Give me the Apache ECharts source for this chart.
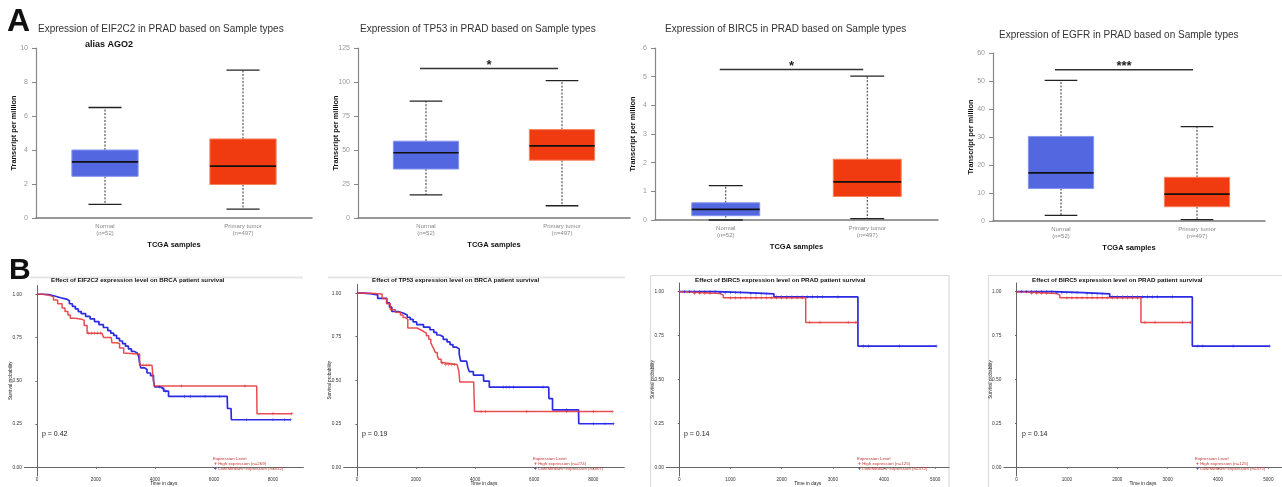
<!DOCTYPE html>
<html>
<head>
<meta charset="utf-8">
<script src="https://cdn.jsdelivr.net/npm/echarts@6/dist/echarts.min.js"></script>
<style>html,body{margin:0;padding:0;background:#fff;}#c{width:1282px;height:487px;}</style>
</head>
<body>
<div id="c"></div>
<script>
// ---------------- DATA ----------------
const boxCategories = ['Normal\n(n=52)', 'Primary tumor\n(n=497)'];
// [min, Q1, median, Q3, max] for Normal, Primary tumor
const eif2c2Box = [[0.8, 2.45, 3.3, 4.0, 6.5], [0.52, 1.97, 3.05, 4.65, 8.7]];
const tp53Box   = [[17, 36, 48, 56.5, 86], [9, 42.5, 53, 65, 101]];
const birc5Box  = [[0.0, 0.15, 0.37, 0.6, 1.2], [0.05, 0.82, 1.33, 2.12, 5.02]];
const egfrBox   = [[2, 11.6, 17.2, 30.2, 50.2], [0.5, 5.1, 9.6, 15.6, 33.7]];
const boxTitles = [
  'Expression of EIF2C2 in PRAD based on Sample types',
  'Expression of TP53 in PRAD based on Sample types',
  'Expression of BIRC5 in PRAD based on Sample types',
  'Expression of EGFR in PRAD based on Sample types'
];
const boxYMax = [10, 125, 6, 60];
const boxYInterval = [2, 25, 1, 10];
// significance bars: [value, label]  (null = none)
const boxSig = [null, [110, '*'], [5.25, '*'], [54, '***']];

// Kaplan-Meier curves: [time in days, survival probability]
const eif2c2High = [[0,1],[200,0.995],[400,0.985],[560,0.967],[700,0.945],[850,0.92],[950,0.9],[1050,0.88],[1130,0.862],[1300,0.855],[1520,0.85],[1600,0.82],[1700,0.775],[2200,0.765],[2260,0.75],[2520,0.75],[2540,0.72],[2700,0.715],[2800,0.69],[2940,0.66],[3000,0.655],[3400,0.655],[3480,0.59],[3900,0.59],[3930,0.53],[3980,0.47],[7450,0.47],[7460,0.31],[8640,0.31]];
const eif2c2Low  = [[0,1],[200,0.998],[400,0.99],[600,0.98],[800,0.972],[1000,0.962],[1100,0.945],[1200,0.93],[1300,0.915],[1400,0.9],[1500,0.888],[1650,0.872],[1800,0.858],[1950,0.842],[2100,0.825],[2250,0.808],[2400,0.79],[2500,0.775],[2600,0.762],[2700,0.745],[2800,0.73],[2900,0.715],[3000,0.7],[3100,0.685],[3200,0.67],[3300,0.66],[3400,0.65],[3450,0.64],[3480,0.605],[3520,0.575],[3650,0.565],[3730,0.545],[3850,0.53],[3950,0.5],[3990,0.465],[4200,0.455],[4300,0.44],[4460,0.41],[6450,0.41],[6460,0.34],[6580,0.34],[6590,0.275],[8600,0.275]];
const tp53High = [[0,1],[450,0.995],[850,0.97],[1000,0.94],[1130,0.905],[1300,0.89],[1470,0.875],[1560,0.86],[1640,0.85],[1720,0.8],[2030,0.79],[2150,0.78],[2260,0.77],[2350,0.755],[2430,0.735],[2500,0.715],[2540,0.7],[2600,0.68],[2650,0.66],[2720,0.64],[2770,0.62],[2850,0.6],[2940,0.59],[3390,0.59],[3450,0.55],[3480,0.49],[3950,0.49],[3960,0.43],[3980,0.32],[8640,0.32]];
const tp53Low  = [[0,1],[200,0.998],[450,0.99],[700,0.97],[1010,0.945],[1100,0.92],[1180,0.895],[1400,0.885],[1580,0.875],[1700,0.862],[1800,0.85],[1900,0.835],[2020,0.82],[2250,0.805],[2470,0.79],[2600,0.775],[2700,0.76],[2800,0.75],[2920,0.735],[3050,0.72],[3150,0.705],[3250,0.69],[3370,0.68],[3460,0.65],[3510,0.61],[3710,0.6],[3750,0.575],[3800,0.55],[3940,0.53],[4280,0.53],[4290,0.495],[4480,0.46],[6490,0.46],[6500,0.395],[6620,0.33],[7500,0.33],[7510,0.25],[8680,0.25]];
const birc5High = [[0,1],[140,0.99],[790,0.98],[860,0.965],[2470,0.825],[3480,0.825]];
const birc5Low  = [[0,1],[730,0.995],[1320,0.988],[1850,0.97],[3490,0.69],[5020,0.69]];

// censoring times
const eif2c2HighCens = [1750,1850,1950,2050,2150,3600,3700,3800,4900,7050,8000,8640];
const eif2c2LowCens  = [4150,4250,4350,5000,5200,5700,6200,7100,8000,8400,8600];
const tp53HighCens   = [2900,3000,3100,3200,3300,4200,4350,5750,7100,8000,8640];
const tp53LowCens    = [4950,5050,5150,5300,6300,7100,8000,8400,8680];
const birc5HighCens  = [300,400,500,600,1000,1100,1200,1300,1400,1500,1600,1700,1800,1900,2000,2100,2200,2300,2400,2550,2750,3300,3450];
const birc5LowCens   = [100,200,300,400,500,600,700,800,900,1000,1100,1200,1400,1500,1600,1700,1900,2000,2100,2200,2300,2400,2500,2600,2700,2800,3100,3600,3700,4300,5020];

const kmTitles = [
  'Effect of EIF2C2 expression level on BRCA patient survival',
  'Effect of TP53 expression level on BRCA patient survival',
  'Effect of BIRC5 expression level on PRAD patient survival',
  'Effect of BIRC5 expression level on PRAD patient survival'
];
const kmPValues = ['p = 0.42', 'p = 0.19', 'p = 0.14', 'p = 0.14'];
const kmHighN = [269, 274, 125, 125];
const kmLowN  = [812, 807, 372, 372];
const kmTicksLong  = [0, 2000, 4000, 6000, 8000];
const kmTicksShort = [0, 1000, 2000, 3000, 4000, 5000];
const survTicks = [0, 0.25, 0.5, 0.75, 1];

// ---------------- CHART ----------------
const FONT = 'Liberation Sans';
const BLUE = '#5367E0', BLUE_EDGE = '#8595ee';
const RED = '#F03A10', RED_EDGE = '#f5825f';
const KM_RED = '#E63A3F', KM_BLUE = '#2B2BE6';

const boxes = [eif2c2Box, tp53Box, birc5Box, egfrBox];
const kmHigh = [eif2c2High, tp53High, birc5High, birc5High];
const kmLow  = [eif2c2Low, tp53Low, birc5Low, birc5Low];
const kmHighC = [eif2c2HighCens, tp53HighCens, birc5HighCens, birc5HighCens];
const kmLowC  = [eif2c2LowCens, tp53LowCens, birc5LowCens, birc5LowCens];

function survAt(curve, t) {
  let s = curve[0][1];
  for (const p of curve) { if (p[0] <= t) s = p[1]; else break; }
  return s;
}

function boxRender(params, api) {
  const cat = api.value(0);
  const lo = api.coord([cat, api.value(1)]);
  const q1 = api.coord([cat, api.value(2)]);
  const md = api.coord([cat, api.value(3)]);
  const q3 = api.coord([cat, api.value(4)]);
  const hi = api.coord([cat, api.value(5)]);
  const bw = api.size([1, 0])[0] * 0.48;
  const x = lo[0];
  const fill = cat === 0 ? BLUE : RED;
  const edge = cat === 0 ? BLUE_EDGE : RED_EDGE;
  const cap = bw * 0.25;
  const dash = { stroke: '#333', lineWidth: 1, lineDash: [2, 1.5] };
  const solid = { stroke: '#222', lineWidth: 1.3 };
  return { type: 'group', children: [
    { type: 'line', shape: { x1: x, y1: q3[1], x2: x, y2: hi[1] }, style: dash },
    { type: 'line', shape: { x1: x, y1: q1[1], x2: x, y2: lo[1] }, style: dash },
    { type: 'line', shape: { x1: x - cap, y1: hi[1], x2: x + cap, y2: hi[1] }, style: solid },
    { type: 'line', shape: { x1: x - cap, y1: lo[1], x2: x + cap, y2: lo[1] }, style: solid },
    { type: 'rect', shape: { x: x - bw / 2, y: q3[1], width: bw, height: q1[1] - q3[1] }, style: { fill: fill, stroke: edge, lineWidth: 1 } },
    { type: 'line', shape: { x1: x - bw / 2, y1: md[1], x2: x + bw / 2, y2: md[1] }, style: { stroke: '#111', lineWidth: 1.6 } }
  ]};
}

function sigRender(params, api) {
  const a = api.coord([0, api.value(1)]);
  const b = api.coord([1, api.value(1)]);
  const label = boxSig[params.seriesIndex === 2 ? 1 : params.seriesIndex === 4 ? 2 : 3][1];
  return { type: 'group', children: [
    { type: 'line', shape: { x1: a[0] - 6, y1: a[1], x2: b[0] - 4, y2: b[1] }, style: { stroke: '#333', lineWidth: 1.5 } },
    { type: 'text', x: (a[0] + b[0]) / 2 - 5, y: a[1] - 3, style: { text: label, fontSize: 13, fontWeight: 'bold', fontFamily: FONT, fill: '#222', align: 'center', verticalAlign: 'middle' } }
  ]};
}

const grids = [
  { left: 36, top: 48, width: 276, height: 170 },
  { left: 358, top: 48, width: 272, height: 170 },
  { left: 655, top: 48, width: 283, height: 172 },
  { left: 993, top: 53, width: 272, height: 168 },
  { left: 24.3, top: 285.6, width: 279, height: 191.4 },
  { left: 343.7, top: 284.5, width: 280.6, height: 193.3 },
  { left: 666.4, top: 282.9, width: 282.7, height: 194.3 },
  { left: 1003.9, top: 282.9, width: 281.1, height: 193.6 }
];
const kmXRange = [[-430, 9030], [-450, 9050], [-251, 5271], [-251, 5271]];
const kmXTicks = [kmTicksLong, kmTicksLong, kmTicksShort, kmTicksShort];

const xAxes = [], yAxes = [], series = [];
for (let i = 0; i < 4; i++) {
  xAxes.push({
    type: 'category', gridIndex: i, data: boxCategories, boundaryGap: true,
    axisTick: { show: false },
    axisLine: { lineStyle: { color: '#777', width: 1.5 } },
    axisLabel: { fontSize: 6, color: '#888', lineHeight: 7.5, margin: 4.5, fontFamily: FONT },
    name: 'TCGA samples', nameLocation: 'middle', nameGap: 23, nameMoveOverlap: false,
    nameTextStyle: { fontWeight: 'bold', fontSize: 7.5, color: '#111', fontFamily: FONT }
  });
  yAxes.push({
    type: 'value', gridIndex: i, min: 0, max: boxYMax[i], interval: boxYInterval[i],
    axisLine: { show: true, lineStyle: { color: '#888', width: 1.2 } },
    axisTick: { show: true, length: 4, lineStyle: { color: '#888' } },
    axisLabel: { fontSize: 7, color: '#999', margin: 8, fontFamily: FONT },
    splitLine: { show: false },
    name: 'Transcript per million', nameLocation: 'middle', nameGap: 19, nameMoveOverlap: false,
    nameTextStyle: { fontWeight: 'bold', fontSize: 7.4, color: '#111', fontFamily: FONT }
  });
  series.push({
    type: 'custom', xAxisIndex: i, yAxisIndex: i, renderItem: boxRender,
    encode: { x: 0, y: [1, 2, 3, 4, 5] },
    data: boxes[i].map((b, k) => [k].concat(b))
  });
  if (boxSig[i]) {
    series.push({
      type: 'custom', xAxisIndex: i, yAxisIndex: i, renderItem: sigRender,
      encode: { x: 0, y: 1 }, data: [[0, boxSig[i][0]]]
    });
  }
}
const plusSym = 'path://M4,0H6V4H10V6H6V10H4V6H0V4H4Z';
for (let j = 0; j < 4; j++) {
  const g = 4 + j;
  xAxes.push({
    type: 'value', gridIndex: g, min: kmXRange[j][0], max: kmXRange[j][1],
    axisLine: { lineStyle: { color: '#666', width: 1 } },
    axisTick: { show: true, customValues: kmXTicks[j], length: 1.5, lineStyle: { color: '#666' } },
    axisLabel: { customValues: kmXTicks[j], fontSize: 4.6, color: '#333', margin: 1.5, fontFamily: FONT, formatter: v => String(v) },
    splitLine: { show: false },
    name: 'Time in days', nameLocation: 'middle', nameGap: 5, nameMoveOverlap: false,
    nameTextStyle: { fontSize: 4.8, color: '#222', fontFamily: FONT }
  });
  yAxes.push({
    type: 'value', gridIndex: g, min: -0.05, max: 1.05,
    axisLine: { show: true, lineStyle: { color: '#666', width: 1 } },
    axisTick: { show: true, customValues: survTicks, length: 1.5, lineStyle: { color: '#666' } },
    axisLabel: { customValues: survTicks, fontSize: 4.8, color: '#333', margin: 2.5, fontFamily: FONT, formatter: v => v.toFixed(2) },
    splitLine: { show: false },
    name: 'Survival probability', nameLocation: 'middle', nameGap: 11, nameMoveOverlap: false,
    nameTextStyle: { fontSize: 4.6, color: '#222', fontFamily: FONT }
  });
  series.push({
    type: 'line', xAxisIndex: g, yAxisIndex: g, step: 'end', showSymbol: false, z: 3,
    lineStyle: { color: KM_BLUE, width: 1.7 }, itemStyle: { color: KM_BLUE },
    data: kmLow[j]
  });
  series.push({
    type: 'line', xAxisIndex: g, yAxisIndex: g, step: 'end', showSymbol: false, z: 4,
    lineStyle: { color: KM_RED, width: 1.5, opacity: 0.9 }, itemStyle: { color: KM_RED },
    data: kmHigh[j]
  });
  series.push({
    type: 'scatter', xAxisIndex: g, yAxisIndex: g, symbol: plusSym, symbolSize: 3.2, z: 5,
    itemStyle: { color: KM_BLUE }, data: kmLowC[j].map(t => [t, survAt(kmLow[j], t)])
  });
  series.push({
    type: 'scatter', xAxisIndex: g, yAxisIndex: g, symbol: plusSym, symbolSize: 3.2, z: 6,
    itemStyle: { color: KM_RED }, data: kmHighC[j].map(t => [t, survAt(kmHigh[j], t)])
  });
}

function txt(x, y, text, size, opts) {
  return Object.assign({ type: 'text', x: x, y: y, z: 10,
    style: Object.assign({ text: text, fontSize: size, fontFamily: FONT, fill: '#333', align: 'left', verticalAlign: 'middle' }, (opts || {})) });
}
const graphics = [];
// panel frames / header strips (decorative)
graphics.push({ type: 'line', shape: { x1: 30, y1: 277.5, x2: 303, y2: 277.5 }, style: { stroke: '#e6e6e6', lineWidth: 2 } });
graphics.push({ type: 'line', shape: { x1: 328, y1: 277.5, x2: 625, y2: 277.5 }, style: { stroke: '#e6e6e6', lineWidth: 2 } });
graphics.push({ type: 'rect', shape: { x: 650.5, y: 275.5, width: 298.5, height: 220 }, style: { fill: 'none', stroke: '#dcdcdc', lineWidth: 1.2 } });
graphics.push({ type: 'rect', shape: { x: 988.5, y: 275.5, width: 310, height: 220 }, style: { fill: 'none', stroke: '#dcdcdc', lineWidth: 1.2 } });

graphics.push(txt(7, 22, 'A', 32, { fontWeight: 'bold', fill: '#111' }));
graphics.push(txt(9, 270.5, 'B', 30, { fontWeight: 'bold', fill: '#111' }));
const boxTitleX = [38, 360, 665, 999];
const boxTitleY = [29.5, 29.5, 29.5, 35];
for (let i = 0; i < 4; i++) graphics.push(txt(boxTitleX[i], boxTitleY[i], boxTitles[i], 10, { fill: '#333' }));
graphics.push(txt(85, 45, 'alias AGO2', 9, { fontWeight: 'bold', fill: '#111' }));

const kmTitleX = [51, 372, 695, 1032];
const kmPX = [42, 362, 684, 1022];
const kmLegX = [213, 533, 857, 1195];
for (let j = 0; j < 4; j++) {
  graphics.push(txt(kmTitleX[j], 280.5, kmTitles[j], 6.2, { fontWeight: 'bold', fill: '#111' }));
  graphics.push(txt(kmPX[j], 434.5, kmPValues[j], 7, { fill: '#222' }));
  graphics.push(txt(kmLegX[j], 459, 'Expression Level', 4.4, { fill: '#b8322f' }));
  graphics.push(txt(kmLegX[j] + 1, 463.8, '{r|+} High expression (n=' + kmHighN[j] + ')', 4.4, {
    fill: '#c0392b', rich: { r: { fill: KM_RED, fontSize: 5, fontWeight: 'bold' } } }));
  graphics.push(txt(kmLegX[j] + 1, 468.5, '{b|+} Low/Medium\u2212expression (n=' + kmLowN[j] + ')', 4.4, {
    fill: '#c0392b', rich: { b: { fill: KM_BLUE, fontSize: 5, fontWeight: 'bold' } } }));
}

const chart = echarts.init(document.getElementById('c'), null, { renderer: 'canvas' });
chart.setOption({
  animation: false,
  backgroundColor: '#fff',
  textStyle: { fontFamily: FONT },
  grid: grids,
  xAxis: xAxes,
  yAxis: yAxes,
  series: series,
  graphic: graphics
});
</script>
</body>
</html>
